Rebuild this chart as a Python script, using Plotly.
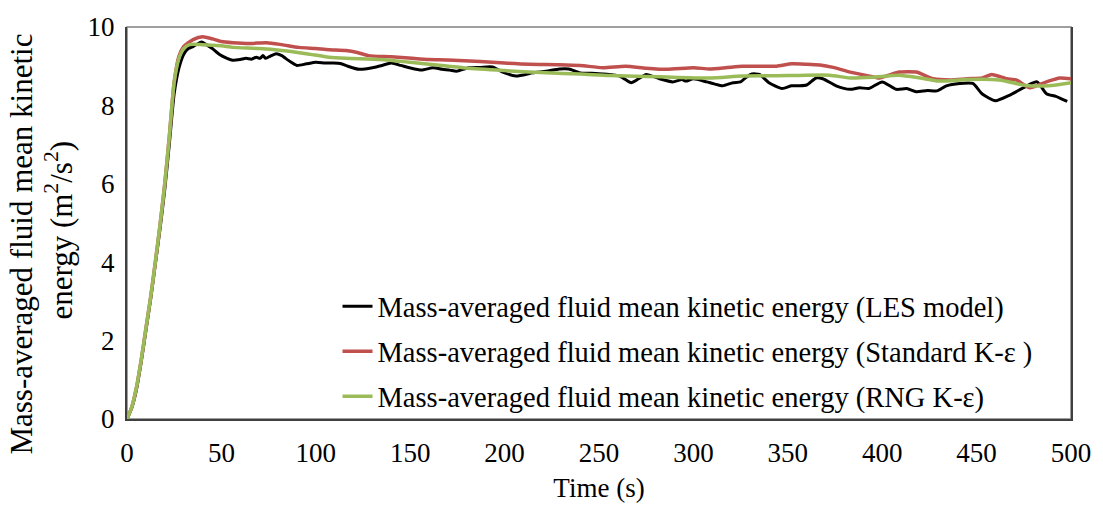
import plotly.graph_objects as go

# ---- data ----
t_les = [0, 2.5, 5, 7.5, 10, 12.5, 15, 17.5, 20, 22.5, 25, 27.5, 30, 32.5, 35, 39.5, 42, 45, 49, 53,
         56, 60, 63, 66, 68.5, 70.5, 72, 73.5, 76, 79, 82, 84, 87, 90, 95, 100, 105, 109, 113, 117,
         123, 130, 135, 140, 145, 149.6, 156, 162, 167, 171, 174.5, 181, 187, 193.6, 199, 206, 215,
         222, 229, 234, 240, 246, 252, 257, 261, 264, 267, 271, 275, 282, 289, 294, 296, 300, 307,
         311, 315.5, 321, 325, 328, 331, 335, 340, 347, 352, 356, 360, 365, 368.5, 375.6, 383, 388,
         393, 400, 407.5, 413, 418, 424, 429, 434, 441, 448, 453, 460, 467, 476, 482, 487, 492, 498]
v_les = [0, 0.28, 0.75, 1.45, 2.25, 3.05, 3.95, 4.85, 5.85, 7.05, 8.3, 8.95, 9.3, 9.45, 9.5, 9.62, 9.55,
         9.46, 9.3, 9.2, 9.15, 9.17, 9.2, 9.18, 9.23, 9.2, 9.27, 9.2, 9.26, 9.32, 9.27, 9.2, 9.1, 9.02,
         9.06, 9.1, 9.08, 9.08, 9.07, 9.0, 8.92, 8.96, 9.02, 9.08, 9.02, 8.96, 8.9, 8.96, 8.92, 8.9,
         8.87, 8.96, 8.97, 8.98, 8.85, 8.75, 8.83, 8.87, 8.93, 8.93, 8.83, 8.82, 8.8, 8.78, 8.75, 8.66,
         8.58, 8.68, 8.79, 8.68, 8.6, 8.66, 8.62, 8.68, 8.6, 8.55, 8.5, 8.58, 8.6, 8.72, 8.8, 8.79,
         8.58, 8.43, 8.5, 8.5, 8.52, 8.7, 8.68, 8.5, 8.41, 8.45, 8.43, 8.6, 8.41, 8.43, 8.35, 8.38,
         8.37, 8.5, 8.56, 8.56, 8.29, 8.12, 8.25, 8.48, 8.6, 8.3, 8.23, 8.1]

t_std = [0, 2.5, 5, 7.5, 10, 12.5, 15, 17.5, 20, 22.5, 25, 27.5, 30, 32.5, 35, 40, 45, 50, 56, 65, 74,
         82, 91, 100, 107, 116, 122, 128, 140, 151, 160, 170, 187, 200, 213, 229, 240, 252, 264, 275,
         286, 300, 308.5, 317, 326, 335, 344, 352, 360, 367, 374, 383, 392, 398.6, 404, 409, 418, 427,
         436, 445, 453, 458, 466, 471, 478, 487, 494, 500]
v_std = [0, 0.3, 0.8, 1.5, 2.3, 3.1, 4.0, 4.95, 6.0, 7.25, 8.6, 9.25, 9.5, 9.6, 9.68, 9.75, 9.7, 9.63,
         9.6, 9.58, 9.6, 9.55, 9.48, 9.45, 9.42, 9.4, 9.35, 9.27, 9.24, 9.2, 9.17, 9.16, 9.12, 9.08,
         9.05, 9.04, 9.02, 8.96, 9.0, 8.95, 8.92, 8.96, 8.93, 8.96, 9.0, 9.0, 9.0, 9.06, 9.05, 9.03,
         8.97, 8.85, 8.76, 8.7, 8.78, 8.85, 8.85, 8.68, 8.65, 8.68, 8.7, 8.79, 8.68, 8.65, 8.45, 8.6,
         8.7, 8.68]

t_rng = [0, 2.5, 5, 7.5, 10, 12.5, 15, 17.5, 20, 22.5, 25, 27.5, 30, 33, 40, 50, 56, 70, 82, 95, 107,
         116, 134, 150, 160, 178, 196, 210, 222, 240, 255.6, 282, 308.5, 326, 350, 372, 383, 395, 409,
         420, 430, 445, 462, 476, 488, 500]
v_rng = [0, 0.3, 0.8, 1.5, 2.3, 3.1, 4.0, 4.95, 6.0, 7.25, 8.6, 9.2, 9.45, 9.55, 9.55, 9.52, 9.48,
         9.45, 9.4, 9.32, 9.23, 9.2, 9.17, 9.1, 9.05, 8.96, 8.9, 8.86, 8.83, 8.8, 8.76, 8.73, 8.7,
         8.75, 8.76, 8.77, 8.7, 8.72, 8.77, 8.7, 8.62, 8.66, 8.65, 8.51, 8.5, 8.58]

names = [
    "Mass-averaged fluid mean kinetic energy (LES model)",
    "Mass-averaged fluid mean kinetic energy (Standard K-\u03b5 )",
    "Mass-averaged fluid mean kinetic energy (RNG K-\u03b5)",
]
colors = ["#000000", "#C0504D", "#9BBB59"]
widths = [3, 3.5, 3.5]

x_ticks = [0, 50, 100, 150, 200, 250, 300, 350, 400, 450, 500]
y_ticks = [0, 2, 4, 6, 8, 10]

y_title_lines = ["Mass-averaged fluid mean kinetic", "energy (m<sup>2</sup>/s<sup>2</sup>)"]

FONT = "Liberation Serif, Times New Roman, serif"

fig = go.Figure()
for i, (t, v) in enumerate([(t_les, v_les), (t_std, v_std), (t_rng, v_rng)]):
    fig.add_trace(go.Scatter(
        x=t, y=v, mode="lines", name=names[i], legendgroup=f"g{i}",
        line=dict(color=colors[i], width=widths[i], shape="spline", smoothing=0.6),
    ))

fig.update_layout(
    width=1103, height=510,
    margin=dict(l=127, r=31, t=20, b=91),
    paper_bgcolor="white", plot_bgcolor="white",
    font=dict(family=FONT, size=27, color="black"),
    showlegend=True,
    legend=dict(x=0.223, y=-0.008, xanchor="left", yanchor="bottom",
                bgcolor="rgba(0,0,0,0)", font=dict(size=28.5, family=FONT),
                tracegroupgap=5),
    xaxis=dict(range=[0, 500], tickvals=x_ticks, showgrid=False, zeroline=False,
               showline=True, linecolor="#404040", linewidth=2, ticks="",
               ticklabelstandoff=9,
               title=dict(text="Time (s)", standoff=11, font=dict(size=27))),
    yaxis=dict(range=[0, 10], tickvals=y_ticks, showgrid=False, zeroline=False,
               showline=True, linecolor="#404040", linewidth=2, mirror=True, ticks="",
               ticklabelstandoff=5),
    shapes=[dict(type="rect", xref="paper", yref="paper", x0=0, x1=1, y0=0, y1=1,
                 line=dict(color="#808080", width=1.5), layer="below")],
    annotations=[
        dict(text=y_title_lines[0], textangle=-90, xref="paper", yref="paper",
             x=-0.1115, y=0.447, xanchor="center", yanchor="middle", showarrow=False,
             font=dict(size=31, family=FONT, color="black")),
        dict(text=y_title_lines[1], textangle=-90, xref="paper", yref="paper",
             x=-0.0725, y=0.482, xanchor="center", yanchor="middle", showarrow=False,
             font=dict(size=31, family=FONT, color="black")),
    ],
)

fig.write_html("out.html")
